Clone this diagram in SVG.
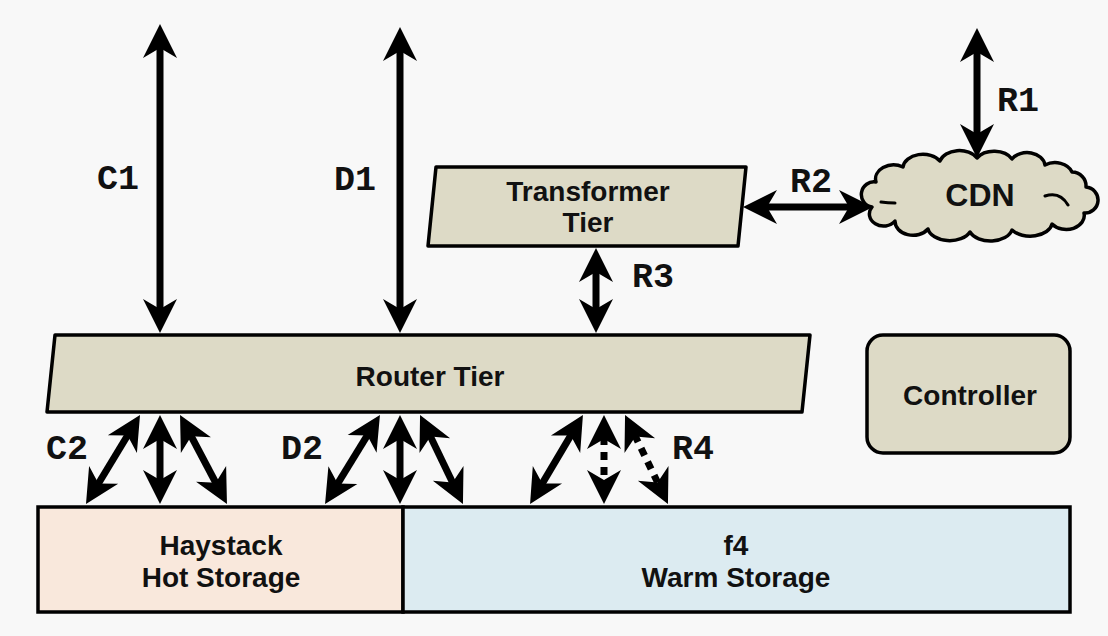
<svg xmlns="http://www.w3.org/2000/svg" width="1108" height="636" viewBox="0 0 1108 636">
<style>
.node{fill:#dddac6;stroke:#000;stroke-width:3.5;stroke-linejoin:round}
.nt{font-family:"Liberation Sans",Arial,sans-serif;font-weight:bold;font-size:28px;fill:#111;text-anchor:middle}
.lbl{font-family:"Liberation Mono","Courier New",monospace;font-weight:bold;font-size:35px;fill:#111}
.arr{stroke:#000;stroke-width:7;fill:none;marker-start:url(#ah);marker-end:url(#ah)}
.dot{stroke-dasharray:8 7}
</style>
<defs>
<marker id="ah" markerUnits="userSpaceOnUse" viewBox="-36 -18 38 36" markerWidth="38" markerHeight="36" refX="-22" refY="0" orient="auto-start-reverse">
<path d="M0,0 L-34,-17 L-24,0 L-34,17 Z" fill="#000"/>
</marker>
</defs>
<rect width="1108" height="636" fill="#f8f8f8"/>
<g id="haystack">
<rect x="38" y="507" width="365" height="105" fill="#f9e8dc" stroke="#000" stroke-width="3.5"/>
<text class="nt" x="221" y="555">Haystack</text>
<text class="nt" x="221" y="587">Hot Storage</text>
</g>
<g id="f4">
<rect x="403" y="507" width="667" height="105" fill="#dcebf1" stroke="#000" stroke-width="3.5"/>
<text class="nt" x="736" y="555">f4</text>
<text class="nt" x="736" y="587">Warm Storage</text>
</g>
<g id="router">
<polygon class="node" points="55,335 810,335 802,412 47,412"/>
<text class="nt" x="430" y="386">Router Tier</text>
</g>
<g id="transformer">
<polygon class="node" points="436,167 746,167 738,246 428,246"/>
<text class="nt" x="588" y="201">Transformer</text>
<text class="nt" x="588" y="232">Tier</text>
</g>
<g id="controller">
<rect class="node" x="867" y="335" width="203" height="118" rx="16"/>
<text class="nt" x="970" y="405">Controller</text>
</g>
<g id="cdn">
<path class="node" stroke-width="3" d="M872,207 A12 12 0 0 1 876,182 A18 14 0 0 1 903,167 A20 14 0 0 1 940,161 A20 14 0 0 1 977,158 A20 14 0 0 1 1012,159 A18 14 0 0 1 1045,165 A18 14 0 0 1 1072,172 A14 14 0 0 1 1086,187 A12 12 0 0 1 1084,213 A18 14 0 0 1 1052,224 A22 14 0 0 1 1012,230 A22 14 0 0 1 970,232 A22 14 0 0 1 928,229 A18 14 0 0 1 895,221 A14 12 0 0 1 872,207 Z"/>
<path d="M881,202 Q888,203 895,203 M1045,196 Q1060,191 1068,205" fill="none" stroke="#000" stroke-width="3" stroke-linecap="round"/>
<text class="nt" x="980" y="206" style="font-size:32px">CDN</text>
</g>
<g id="connectors">
<path class="arr" d="M160,46 L160,311"/>
<path class="arr" d="M400,49 L400,311"/>
<path class="arr" d="M977,50 L977,136"/>
<path class="arr" d="M765,207 L851,207"/>
<path class="arr" d="M596,270 L596,311"/>
<path class="arr" d="M128.6,433.8 L97.4,485.2"/>
<path class="arr" d="M160,437 L160,482"/>
<path class="arr" d="M190.3,434.5 L216.7,484.5"/>
<path class="arr" d="M368.4,433.7 L336.6,485.3"/>
<path class="arr" d="M400,437 L400,482"/>
<path class="arr" d="M429.6,434.8 L453.4,484.2"/>
<path class="arr" d="M571.7,433.9 L541.3,485.1"/>
<path class="arr dot" d="M604,437 L604,482"/>
<path class="arr dot" d="M634.6,434.8 L658.4,484.2"/>
</g>
<g id="labels">
<text class="lbl" x="97" y="189">C1</text>
<text class="lbl" x="334" y="190">D1</text>
<text class="lbl" x="997" y="111">R1</text>
<text class="lbl" x="790" y="192">R2</text>
<text class="lbl" x="632" y="287">R3</text>
<text class="lbl" x="46" y="459">C2</text>
<text class="lbl" x="281" y="459">D2</text>
<text class="lbl" x="672" y="459">R4</text>
</g>
</svg>
